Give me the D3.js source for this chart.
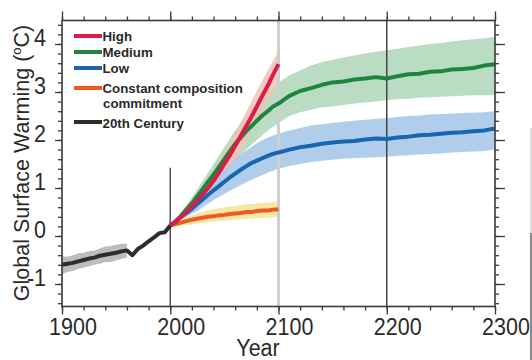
<!DOCTYPE html>
<html><head><meta charset="utf-8">
<script src="https://cdn.jsdelivr.net/npm/d3@7"></script>
<style>
html,body{margin:0;padding:0;background:#fff;}
svg{display:block;font-family:"Liberation Sans",Arial,sans-serif;}
</style></head>
<body><svg id="c" width="532" height="360"></svg>
<script>
// ---------- data ----------
const years20 = [1900,1905,1910,1915,1920,1925,1930,1935,1940,1945,1950,1955,1960,1965,1970,1975,1980,1985,1990,1995,2000];
const century20 = [-0.60,-0.58,-0.56,-0.53,-0.50,-0.47,-0.45,-0.41,-0.39,-0.37,-0.35,-0.32,-0.30,-0.40,-0.27,-0.20,-0.11,-0.03,0.06,0.08,0.22];
const yearsBand20 = [1900,1905,1910,1915,1920,1925,1930,1935,1940,1945,1950,1955,1960];
const band20Hi = [-0.42,-0.43,-0.40,-0.36,-0.35,-0.31,-0.30,-0.26,-0.22,-0.21,-0.18,-0.16,-0.16];
const band20Lo = [-0.80,-0.75,-0.73,-0.69,-0.66,-0.63,-0.60,-0.58,-0.54,-0.54,-0.51,-0.48,-0.45];

const yearsCentury = [2000,2005,2010,2015,2020,2025,2030,2035,2040,2045,2050,2055,2060,2065,2070,2075,2080,2085,2090,2095,2100];
const yearsLong = [2000,2005,2010,2015,2020,2025,2030,2035,2040,2045,2050,2055,2060,2065,2070,2075,2080,2085,2090,2095,2100,
  2110,2120,2130,2140,2150,2160,2170,2180,2190,2200,2210,2220,2230,2240,2250,2260,2270,2280,2290,2300];
const high = [0.22,0.30,0.40,0.50,0.62,0.74,0.87,1.00,1.15,1.32,1.50,1.68,1.88,2.08,2.28,2.48,2.70,2.92,3.13,3.36,3.58];
const medium = [0.22,0.30,0.42,0.55,0.68,0.83,0.98,1.13,1.28,1.44,1.60,1.76,1.92,2.05,2.18,2.29,2.40,2.51,2.60,2.70,2.76,
  2.92,3.02,3.08,3.15,3.20,3.22,3.26,3.28,3.31,3.28,3.33,3.37,3.38,3.42,3.43,3.47,3.48,3.50,3.55,3.58];
const low = [0.22,0.30,0.40,0.48,0.57,0.67,0.76,0.86,0.95,1.04,1.13,1.22,1.30,1.38,1.45,1.52,1.57,1.62,1.67,1.71,1.74,
  1.80,1.85,1.88,1.92,1.95,1.97,1.98,2.01,2.03,2.02,2.05,2.07,2.10,2.11,2.13,2.15,2.16,2.18,2.20,2.24];
const constant = [0.22,0.25,0.28,0.31,0.34,0.36,0.38,0.40,0.41,0.43,0.44,0.46,0.47,0.48,0.50,0.50,0.52,0.53,0.53,0.55,0.55];

const yearsBandC = [2000,2010,2020,2030,2040,2050,2060,2070,2080,2090,2100];
const yearsBandL = [2000,2010,2020,2030,2040,2050,2060,2070,2080,2090,2100,2110,2120,2130,2140,2150,2160,2170,2180,2190,2200,
  2210,2220,2230,2240,2250,2260,2270,2280,2290,2300];
const highHi = [0.25,0.48,0.75,1.05,1.38,1.75,2.15,2.58,3.02,3.45,3.85];
const highLo = [0.20,0.33,0.50,0.70,0.92,1.25,1.60,1.98,2.38,2.80,3.20];
const constHi = [0.24,0.35,0.43,0.50,0.56,0.60,0.63,0.66,0.68,0.70,0.72];
const constLo = [0.20,0.22,0.24,0.27,0.30,0.32,0.34,0.36,0.37,0.38,0.40];
const medHi = [0.25,0.50,0.80,1.15,1.50,1.85,2.20,2.50,2.78,3.00,3.20,3.35,3.45,3.55,3.62,3.67,3.72,3.76,3.80,3.84,3.87,
  3.90,3.94,3.97,4.00,4.02,4.05,4.08,4.10,4.12,4.15];
const medLo = [0.20,0.35,0.55,0.80,1.05,1.30,1.55,1.80,2.00,2.20,2.35,2.50,2.58,2.63,2.68,2.70,2.73,2.76,2.78,2.80,2.83,
  2.85,2.86,2.88,2.89,2.90,2.91,2.92,2.93,2.93,2.94];
const lowHi = [0.24,0.45,0.68,0.92,1.15,1.38,1.60,1.78,1.93,2.05,2.13,2.20,2.25,2.30,2.33,2.36,2.38,2.40,2.42,2.44,2.46,
  2.48,2.50,2.51,2.53,2.54,2.55,2.56,2.57,2.58,2.60];
const lowLo = [0.20,0.34,0.46,0.60,0.75,0.88,1.00,1.12,1.22,1.32,1.40,1.46,1.50,1.54,1.57,1.59,1.61,1.62,1.63,1.64,1.65,
  1.67,1.68,1.70,1.71,1.72,1.74,1.75,1.76,1.77,1.80];

const xTicks = [1900,2000,2100,2200,2300];
const yTicks = [-1,0,1,2,3,4];
const legendLabels = ["High","Medium","Low","Constant composition","20th Century"];
const legendLine2 = "commitment";
const xTitle = "Year";
const yTitle = "Global Surface Warming (";

(function(){
// ---------- layout ----------
const svg = d3.select("#c");
const L = 62, R = 495, T = 20.5, B = 306.5;
const x = d3.scaleLinear().domain([1900,2300]).range([L,R]);
const y = d3.scaleLinear().domain([-1,4]).range([284,44]);

const col = {high:"#d81e48", med:"#1e8540", low:"#1666b0", cons:"#f05a22", c20:"#2d2d2d"};
const band = {high:"#f1c2b5", med:"#b9dcc2", low:"#a8c8ea", cons:"#f7e7a6", c20:"#bdbdbd"};

function areaOf(ys, lo, hi){ return d3.area().x((d,i)=>x(ys[i])).y0((d,i)=>y(lo[i])).y1((d,i)=>y(hi[i]))(ys); }
function lineOf(ys, vs){ return d3.line().x((d,i)=>x(ys[i])).y((d,i)=>y(vs[i]))(ys); }

// bands
svg.append("path").attr("d",areaOf(yearsBand20,band20Lo,band20Hi)).attr("fill",band.c20);
svg.append("path").attr("d",areaOf(yearsBandL,medLo,medHi)).attr("fill",band.med);
svg.append("path").attr("d",areaOf(yearsBandC,highLo,highHi)).attr("fill",band.high).attr("opacity",0.85);
svg.append("path").attr("d",areaOf(yearsBandL,lowLo,lowHi)).attr("fill",band.low).attr("opacity",0.9);
svg.append("path").attr("d",areaOf(yearsBandC,constLo,constHi)).attr("fill",band.cons);

// vertical reference lines
svg.append("line").attr("x1",x(2100)).attr("x2",x(2100)).attr("y1",T).attr("y2",B).attr("stroke","#cfcfcf").attr("stroke-width",3);
svg.append("line").attr("x1",x(2000)).attr("x2",x(2000)).attr("y1",y(1.42)).attr("y2",B).attr("stroke","#555").attr("stroke-width",1.5);
svg.append("line").attr("x1",x(2200)).attr("x2",x(2200)).attr("y1",T).attr("y2",B).attr("stroke","#444").attr("stroke-width",1.5);

// lines
const lw = 4;
[[yearsCentury,constant,col.cons],[yearsLong,low,col.low],[yearsLong,medium,col.med],[yearsCentury,high,col.high],[years20,century20,col.c20]]
.forEach(([ys,vs,c])=>{
  svg.append("path").attr("d",lineOf(ys,vs)).attr("fill","none").attr("stroke",c).attr("stroke-width",lw).attr("stroke-linejoin","round");
});

// axes frame
const ax = "#3a3a3a";
const g = svg.append("g");
const xMinor = d3.range(1900,2301,20);
const yMinor = d3.range(-1.4,4.45,0.2);
g.append("g").attr("transform",`translate(0,${B})`).call(d3.axisBottom(x).tickValues(xMinor).tickSize(4).tickFormat(""));
g.append("g").attr("transform",`translate(0,${T})`).call(d3.axisTop(x).tickValues(xMinor).tickSize(4).tickFormat(""));
g.append("g").attr("transform",`translate(${L},0)`).call(d3.axisLeft(y).tickValues(yMinor).tickSize(4).tickFormat(""));
g.append("g").attr("transform",`translate(${R},0)`).call(d3.axisRight(y).tickValues(yMinor).tickSize(4).tickFormat(""));
g.append("g").attr("transform",`translate(0,${B})`).call(d3.axisBottom(x).tickValues(xTicks).tickSize(8).tickFormat(""));
g.append("g").attr("transform",`translate(0,${T})`).call(d3.axisTop(x).tickValues(xTicks).tickSize(9).tickFormat(""));
g.append("g").attr("transform",`translate(${L},0)`).call(d3.axisLeft(y).tickValues(yTicks).tickSize(7).tickFormat(""));
g.append("g").attr("transform",`translate(${R},0)`).call(d3.axisRight(y).tickValues(yTicks).tickSize(10).tickFormat(""));
g.selectAll("path.domain").remove();
g.selectAll(".tick line").attr("stroke",ax).attr("stroke-width",1.3);
svg.append("rect").attr("x",L).attr("y",T).attr("width",R-L).attr("height",B-T).attr("fill","none").attr("stroke",ax).attr("stroke-width",1.6);

// tick labels
const sy = 1.15;
xTicks.forEach(v=>{
  svg.append("text").attr("transform",`translate(${x(v)+11},335) scale(1,${sy})`).attr("text-anchor","middle")
    .attr("font-size",21.5).attr("fill","#2a2a2a").text(v);
});
yTicks.forEach(v=>{
  svg.append("text").attr("transform",`translate(46,${y(v)+1.5}) scale(1,${sy})`).attr("text-anchor","end")
    .attr("font-size",21.5).attr("fill","#2a2a2a").text(v);
});
svg.append("text").attr("transform",`translate(258,356) scale(1,${sy})`).attr("text-anchor","middle")
  .attr("font-size",21.5).attr("fill","#2a2a2a").text(xTitle);
const yt = svg.append("text").attr("transform","translate(29,163) rotate(-90)").attr("text-anchor","middle")
  .attr("font-size",21.5).attr("fill","#2a2a2a");
yt.append("tspan").text(yTitle);
yt.append("tspan").attr("font-size",13).attr("dy",-8).text("o");
yt.append("tspan").attr("dy",8).text("C)");

// legend
const legCols = [col.high,col.med,col.low,col.cons,col.c20];
const legY = [36,52,68,88,122];
const legBase = [41,57,73,93,128];
legendLabels.forEach((t,i)=>{
  svg.append("line").attr("x1",74).attr("x2",102).attr("y1",legY[i]).attr("y2",legY[i]).attr("stroke",legCols[i]).attr("stroke-width",4);
  svg.append("text").attr("x",102.5).attr("y",legBase[i]).attr("font-size",13.3).attr("font-weight","bold").attr("fill","#2a2a2a").text(t);
});
svg.append("text").attr("x",103).attr("y",108).attr("font-size",13.3).attr("font-weight","bold").attr("fill","#2a2a2a").text(legendLine2);

// partial panel edge at right
svg.append("line").attr("x1",531).attr("x2",531).attr("y1",128).attr("y2",233).attr("stroke","#bbb").attr("stroke-width",1);
svg.append("line").attr("x1",531).attr("x2",531).attr("y1",233).attr("y2",360).attr("stroke","#888").attr("stroke-width",2);
})();
</script></body></html>
